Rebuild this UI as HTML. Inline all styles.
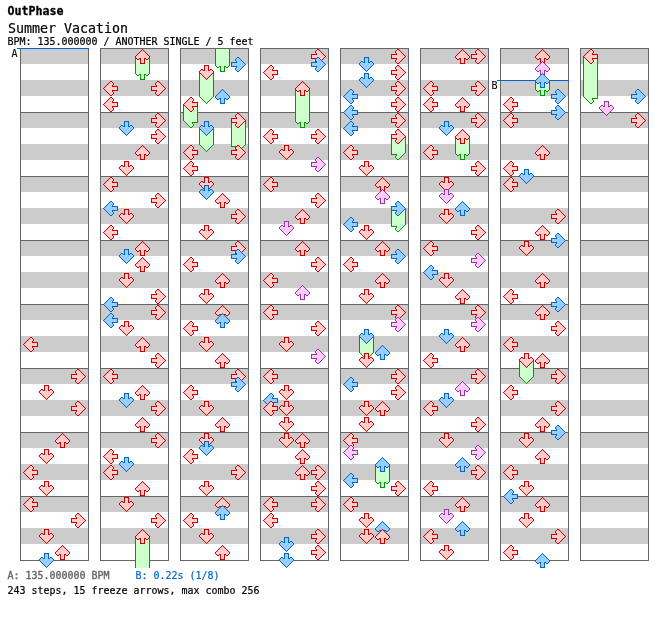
<!DOCTYPE html>
<html><head><meta charset="utf-8"><title>OutPhase - Summer Vacation</title>
<style>html,body{margin:0;padding:0;background:#fff}svg{display:block}</style></head>
<body>
<svg width="672" height="620" viewBox="0 0 672 620" shape-rendering="crispEdges">
<defs>
<g id="Lr"><path fill="#ffcccc" d="M7 1h2v1h-2zM6 2h4v1h-4zM5 3h5v1h-5zM4 4h5v1h-5zM3 5h6v1h-6zM2 6h12v1h-12zM1 7h13v1h-13zM2 8h12v1h-12zM3 9h6v1h-6zM4 10h5v1h-5zM5 11h5v1h-5zM6 12h4v1h-4zM7 13h2v1h-2z"/><path fill="#cc0000" d="M7 0h2v1h-2zM6 1h1v1h-1zM9 1h1v1h-1zM5 2h1v1h-1zM10 2h1v1h-1zM4 3h1v1h-1zM10 3h1v1h-1zM3 4h1v1h-1zM9 4h1v1h-1zM2 5h1v1h-1zM9 5h6v1h-6zM1 6h1v1h-1zM14 6h1v1h-1zM0 7h1v1h-1zM14 7h1v1h-1zM1 8h1v1h-1zM14 8h1v1h-1zM2 9h1v1h-1zM9 9h6v1h-6zM3 10h1v1h-1zM9 10h1v1h-1zM4 11h1v1h-1zM10 11h1v1h-1zM5 12h1v1h-1zM10 12h1v1h-1zM6 13h1v1h-1zM9 13h1v1h-1zM7 14h2v1h-2z"/></g>
<g id="Lb"><path fill="#99ccff" d="M7 1h2v1h-2zM6 2h4v1h-4zM5 3h5v1h-5zM4 4h5v1h-5zM3 5h6v1h-6zM2 6h12v1h-12zM1 7h13v1h-13zM2 8h12v1h-12zM3 9h6v1h-6zM4 10h5v1h-5zM5 11h5v1h-5zM6 12h4v1h-4zM7 13h2v1h-2z"/><path fill="#0066cc" d="M7 0h2v1h-2zM6 1h1v1h-1zM9 1h1v1h-1zM5 2h1v1h-1zM10 2h1v1h-1zM4 3h1v1h-1zM10 3h1v1h-1zM3 4h1v1h-1zM9 4h1v1h-1zM2 5h1v1h-1zM9 5h6v1h-6zM1 6h1v1h-1zM14 6h1v1h-1zM0 7h1v1h-1zM14 7h1v1h-1zM1 8h1v1h-1zM14 8h1v1h-1zM2 9h1v1h-1zM9 9h6v1h-6zM3 10h1v1h-1zM9 10h1v1h-1zM4 11h1v1h-1zM10 11h1v1h-1zM5 12h1v1h-1zM10 12h1v1h-1zM6 13h1v1h-1zM9 13h1v1h-1zM7 14h2v1h-2z"/></g>
<g id="Lp"><path fill="#ffccff" d="M7 1h2v1h-2zM6 2h4v1h-4zM5 3h5v1h-5zM4 4h5v1h-5zM3 5h6v1h-6zM2 6h12v1h-12zM1 7h13v1h-13zM2 8h12v1h-12zM3 9h6v1h-6zM4 10h5v1h-5zM5 11h5v1h-5zM6 12h4v1h-4zM7 13h2v1h-2z"/><path fill="#993399" d="M7 0h2v1h-2zM6 1h1v1h-1zM9 1h1v1h-1zM5 2h1v1h-1zM10 2h1v1h-1zM4 3h1v1h-1zM10 3h1v1h-1zM3 4h1v1h-1zM9 4h1v1h-1zM2 5h1v1h-1zM9 5h6v1h-6zM1 6h1v1h-1zM14 6h1v1h-1zM0 7h1v1h-1zM14 7h1v1h-1zM1 8h1v1h-1zM14 8h1v1h-1zM2 9h1v1h-1zM9 9h6v1h-6zM3 10h1v1h-1zM9 10h1v1h-1zM4 11h1v1h-1zM10 11h1v1h-1zM5 12h1v1h-1zM10 12h1v1h-1zM6 13h1v1h-1zM9 13h1v1h-1zM7 14h2v1h-2z"/></g>
<g id="Lt"><path fill="#ccffcc" d="M2 8h12v1h-12zM3 9h6v1h-6zM4 10h5v1h-5zM5 11h5v1h-5zM6 12h4v1h-4zM7 13h2v1h-2z"/><path fill="#009900" d="M1 8h1v1h-1zM14 8h1v1h-1zM2 9h1v1h-1zM9 9h6v1h-6zM3 10h1v1h-1zM9 10h1v1h-1zM4 11h1v1h-1zM10 11h1v1h-1zM5 12h1v1h-1zM10 12h1v1h-1zM6 13h1v1h-1zM9 13h1v1h-1zM7 14h2v1h-2z"/></g>
<g id="Dr"><path fill="#ffcccc" d="M6 1h3v1h-3zM6 2h3v1h-3zM6 3h3v1h-3zM6 4h3v1h-3zM2 5h2v1h-2zM6 5h3v1h-3zM11 5h2v1h-2zM1 6h13v1h-13zM1 7h13v1h-13zM2 8h11v1h-11zM3 9h9v1h-9zM4 10h7v1h-7zM5 11h5v1h-5zM6 12h3v1h-3zM7 13h1v1h-1z"/><path fill="#cc0000" d="M5 0h5v1h-5zM5 1h1v1h-1zM9 1h1v1h-1zM5 2h1v1h-1zM9 2h1v1h-1zM5 3h1v1h-1zM9 3h1v1h-1zM2 4h2v1h-2zM5 4h1v1h-1zM9 4h1v1h-1zM11 4h2v1h-2zM1 5h1v1h-1zM4 5h2v1h-2zM9 5h2v1h-2zM13 5h1v1h-1zM0 6h1v1h-1zM14 6h1v1h-1zM0 7h1v1h-1zM14 7h1v1h-1zM1 8h1v1h-1zM13 8h1v1h-1zM2 9h1v1h-1zM12 9h1v1h-1zM3 10h1v1h-1zM11 10h1v1h-1zM4 11h1v1h-1zM10 11h1v1h-1zM5 12h1v1h-1zM9 12h1v1h-1zM6 13h1v1h-1zM8 13h1v1h-1zM7 14h1v1h-1z"/></g>
<g id="Db"><path fill="#99ccff" d="M6 1h3v1h-3zM6 2h3v1h-3zM6 3h3v1h-3zM6 4h3v1h-3zM2 5h2v1h-2zM6 5h3v1h-3zM11 5h2v1h-2zM1 6h13v1h-13zM1 7h13v1h-13zM2 8h11v1h-11zM3 9h9v1h-9zM4 10h7v1h-7zM5 11h5v1h-5zM6 12h3v1h-3zM7 13h1v1h-1z"/><path fill="#0066cc" d="M5 0h5v1h-5zM5 1h1v1h-1zM9 1h1v1h-1zM5 2h1v1h-1zM9 2h1v1h-1zM5 3h1v1h-1zM9 3h1v1h-1zM2 4h2v1h-2zM5 4h1v1h-1zM9 4h1v1h-1zM11 4h2v1h-2zM1 5h1v1h-1zM4 5h2v1h-2zM9 5h2v1h-2zM13 5h1v1h-1zM0 6h1v1h-1zM14 6h1v1h-1zM0 7h1v1h-1zM14 7h1v1h-1zM1 8h1v1h-1zM13 8h1v1h-1zM2 9h1v1h-1zM12 9h1v1h-1zM3 10h1v1h-1zM11 10h1v1h-1zM4 11h1v1h-1zM10 11h1v1h-1zM5 12h1v1h-1zM9 12h1v1h-1zM6 13h1v1h-1zM8 13h1v1h-1zM7 14h1v1h-1z"/></g>
<g id="Dp"><path fill="#ffccff" d="M6 1h3v1h-3zM6 2h3v1h-3zM6 3h3v1h-3zM6 4h3v1h-3zM2 5h2v1h-2zM6 5h3v1h-3zM11 5h2v1h-2zM1 6h13v1h-13zM1 7h13v1h-13zM2 8h11v1h-11zM3 9h9v1h-9zM4 10h7v1h-7zM5 11h5v1h-5zM6 12h3v1h-3zM7 13h1v1h-1z"/><path fill="#993399" d="M5 0h5v1h-5zM5 1h1v1h-1zM9 1h1v1h-1zM5 2h1v1h-1zM9 2h1v1h-1zM5 3h1v1h-1zM9 3h1v1h-1zM2 4h2v1h-2zM5 4h1v1h-1zM9 4h1v1h-1zM11 4h2v1h-2zM1 5h1v1h-1zM4 5h2v1h-2zM9 5h2v1h-2zM13 5h1v1h-1zM0 6h1v1h-1zM14 6h1v1h-1zM0 7h1v1h-1zM14 7h1v1h-1zM1 8h1v1h-1zM13 8h1v1h-1zM2 9h1v1h-1zM12 9h1v1h-1zM3 10h1v1h-1zM11 10h1v1h-1zM4 11h1v1h-1zM10 11h1v1h-1zM5 12h1v1h-1zM9 12h1v1h-1zM6 13h1v1h-1zM8 13h1v1h-1zM7 14h1v1h-1z"/></g>
<g id="Dt"><path fill="#ccffcc" d="M2 8h11v1h-11zM3 9h9v1h-9zM4 10h7v1h-7zM5 11h5v1h-5zM6 12h3v1h-3zM7 13h1v1h-1z"/><path fill="#009900" d="M1 8h1v1h-1zM13 8h1v1h-1zM2 9h1v1h-1zM12 9h1v1h-1zM3 10h1v1h-1zM11 10h1v1h-1zM4 11h1v1h-1zM10 11h1v1h-1zM5 12h1v1h-1zM9 12h1v1h-1zM6 13h1v1h-1zM8 13h1v1h-1zM7 14h1v1h-1z"/></g>
<g id="Ur"><path fill="#ffcccc" d="M7 1h1v1h-1zM6 2h3v1h-3zM5 3h5v1h-5zM4 4h7v1h-7zM3 5h9v1h-9zM2 6h11v1h-11zM1 7h13v1h-13zM1 8h13v1h-13zM2 9h2v1h-2zM6 9h3v1h-3zM11 9h2v1h-2zM6 10h3v1h-3zM6 11h3v1h-3zM6 12h3v1h-3zM6 13h3v1h-3z"/><path fill="#cc0000" d="M7 0h1v1h-1zM6 1h1v1h-1zM8 1h1v1h-1zM5 2h1v1h-1zM9 2h1v1h-1zM4 3h1v1h-1zM10 3h1v1h-1zM3 4h1v1h-1zM11 4h1v1h-1zM2 5h1v1h-1zM12 5h1v1h-1zM1 6h1v1h-1zM13 6h1v1h-1zM0 7h1v1h-1zM14 7h1v1h-1zM0 8h1v1h-1zM14 8h1v1h-1zM1 9h1v1h-1zM4 9h2v1h-2zM9 9h2v1h-2zM13 9h1v1h-1zM2 10h2v1h-2zM5 10h1v1h-1zM9 10h1v1h-1zM11 10h2v1h-2zM5 11h1v1h-1zM9 11h1v1h-1zM5 12h1v1h-1zM9 12h1v1h-1zM5 13h1v1h-1zM9 13h1v1h-1zM5 14h5v1h-5z"/></g>
<g id="Ub"><path fill="#99ccff" d="M7 1h1v1h-1zM6 2h3v1h-3zM5 3h5v1h-5zM4 4h7v1h-7zM3 5h9v1h-9zM2 6h11v1h-11zM1 7h13v1h-13zM1 8h13v1h-13zM2 9h2v1h-2zM6 9h3v1h-3zM11 9h2v1h-2zM6 10h3v1h-3zM6 11h3v1h-3zM6 12h3v1h-3zM6 13h3v1h-3z"/><path fill="#0066cc" d="M7 0h1v1h-1zM6 1h1v1h-1zM8 1h1v1h-1zM5 2h1v1h-1zM9 2h1v1h-1zM4 3h1v1h-1zM10 3h1v1h-1zM3 4h1v1h-1zM11 4h1v1h-1zM2 5h1v1h-1zM12 5h1v1h-1zM1 6h1v1h-1zM13 6h1v1h-1zM0 7h1v1h-1zM14 7h1v1h-1zM0 8h1v1h-1zM14 8h1v1h-1zM1 9h1v1h-1zM4 9h2v1h-2zM9 9h2v1h-2zM13 9h1v1h-1zM2 10h2v1h-2zM5 10h1v1h-1zM9 10h1v1h-1zM11 10h2v1h-2zM5 11h1v1h-1zM9 11h1v1h-1zM5 12h1v1h-1zM9 12h1v1h-1zM5 13h1v1h-1zM9 13h1v1h-1zM5 14h5v1h-5z"/></g>
<g id="Up"><path fill="#ffccff" d="M7 1h1v1h-1zM6 2h3v1h-3zM5 3h5v1h-5zM4 4h7v1h-7zM3 5h9v1h-9zM2 6h11v1h-11zM1 7h13v1h-13zM1 8h13v1h-13zM2 9h2v1h-2zM6 9h3v1h-3zM11 9h2v1h-2zM6 10h3v1h-3zM6 11h3v1h-3zM6 12h3v1h-3zM6 13h3v1h-3z"/><path fill="#993399" d="M7 0h1v1h-1zM6 1h1v1h-1zM8 1h1v1h-1zM5 2h1v1h-1zM9 2h1v1h-1zM4 3h1v1h-1zM10 3h1v1h-1zM3 4h1v1h-1zM11 4h1v1h-1zM2 5h1v1h-1zM12 5h1v1h-1zM1 6h1v1h-1zM13 6h1v1h-1zM0 7h1v1h-1zM14 7h1v1h-1zM0 8h1v1h-1zM14 8h1v1h-1zM1 9h1v1h-1zM4 9h2v1h-2zM9 9h2v1h-2zM13 9h1v1h-1zM2 10h2v1h-2zM5 10h1v1h-1zM9 10h1v1h-1zM11 10h2v1h-2zM5 11h1v1h-1zM9 11h1v1h-1zM5 12h1v1h-1zM9 12h1v1h-1zM5 13h1v1h-1zM9 13h1v1h-1zM5 14h5v1h-5z"/></g>
<g id="Ut"><path fill="#ccffcc" d="M1 8h13v1h-13zM2 9h2v1h-2zM6 9h3v1h-3zM11 9h2v1h-2zM6 10h3v1h-3zM6 11h3v1h-3zM6 12h3v1h-3zM6 13h3v1h-3z"/><path fill="#009900" d="M0 8h1v1h-1zM14 8h1v1h-1zM1 9h1v1h-1zM4 9h2v1h-2zM9 9h2v1h-2zM13 9h1v1h-1zM2 10h2v1h-2zM5 10h1v1h-1zM9 10h1v1h-1zM11 10h2v1h-2zM5 11h1v1h-1zM9 11h1v1h-1zM5 12h1v1h-1zM9 12h1v1h-1zM5 13h1v1h-1zM9 13h1v1h-1zM5 14h5v1h-5z"/></g>
<g id="Rr"><path fill="#ffcccc" d="M6 1h2v1h-2zM5 2h4v1h-4zM5 3h5v1h-5zM6 4h5v1h-5zM6 5h6v1h-6zM1 6h12v1h-12zM1 7h13v1h-13zM1 8h12v1h-12zM6 9h6v1h-6zM6 10h5v1h-5zM5 11h5v1h-5zM5 12h4v1h-4zM6 13h2v1h-2z"/><path fill="#cc0000" d="M6 0h2v1h-2zM5 1h1v1h-1zM8 1h1v1h-1zM4 2h1v1h-1zM9 2h1v1h-1zM4 3h1v1h-1zM10 3h1v1h-1zM5 4h1v1h-1zM11 4h1v1h-1zM0 5h6v1h-6zM12 5h1v1h-1zM0 6h1v1h-1zM13 6h1v1h-1zM0 7h1v1h-1zM14 7h1v1h-1zM0 8h1v1h-1zM13 8h1v1h-1zM0 9h6v1h-6zM12 9h1v1h-1zM5 10h1v1h-1zM11 10h1v1h-1zM4 11h1v1h-1zM10 11h1v1h-1zM4 12h1v1h-1zM9 12h1v1h-1zM5 13h1v1h-1zM8 13h1v1h-1zM6 14h2v1h-2z"/></g>
<g id="Rb"><path fill="#99ccff" d="M6 1h2v1h-2zM5 2h4v1h-4zM5 3h5v1h-5zM6 4h5v1h-5zM6 5h6v1h-6zM1 6h12v1h-12zM1 7h13v1h-13zM1 8h12v1h-12zM6 9h6v1h-6zM6 10h5v1h-5zM5 11h5v1h-5zM5 12h4v1h-4zM6 13h2v1h-2z"/><path fill="#0066cc" d="M6 0h2v1h-2zM5 1h1v1h-1zM8 1h1v1h-1zM4 2h1v1h-1zM9 2h1v1h-1zM4 3h1v1h-1zM10 3h1v1h-1zM5 4h1v1h-1zM11 4h1v1h-1zM0 5h6v1h-6zM12 5h1v1h-1zM0 6h1v1h-1zM13 6h1v1h-1zM0 7h1v1h-1zM14 7h1v1h-1zM0 8h1v1h-1zM13 8h1v1h-1zM0 9h6v1h-6zM12 9h1v1h-1zM5 10h1v1h-1zM11 10h1v1h-1zM4 11h1v1h-1zM10 11h1v1h-1zM4 12h1v1h-1zM9 12h1v1h-1zM5 13h1v1h-1zM8 13h1v1h-1zM6 14h2v1h-2z"/></g>
<g id="Rp"><path fill="#ffccff" d="M6 1h2v1h-2zM5 2h4v1h-4zM5 3h5v1h-5zM6 4h5v1h-5zM6 5h6v1h-6zM1 6h12v1h-12zM1 7h13v1h-13zM1 8h12v1h-12zM6 9h6v1h-6zM6 10h5v1h-5zM5 11h5v1h-5zM5 12h4v1h-4zM6 13h2v1h-2z"/><path fill="#993399" d="M6 0h2v1h-2zM5 1h1v1h-1zM8 1h1v1h-1zM4 2h1v1h-1zM9 2h1v1h-1zM4 3h1v1h-1zM10 3h1v1h-1zM5 4h1v1h-1zM11 4h1v1h-1zM0 5h6v1h-6zM12 5h1v1h-1zM0 6h1v1h-1zM13 6h1v1h-1zM0 7h1v1h-1zM14 7h1v1h-1zM0 8h1v1h-1zM13 8h1v1h-1zM0 9h6v1h-6zM12 9h1v1h-1zM5 10h1v1h-1zM11 10h1v1h-1zM4 11h1v1h-1zM10 11h1v1h-1zM4 12h1v1h-1zM9 12h1v1h-1zM5 13h1v1h-1zM8 13h1v1h-1zM6 14h2v1h-2z"/></g>
<g id="Rt"><path fill="#ccffcc" d="M1 8h12v1h-12zM6 9h6v1h-6zM6 10h5v1h-5zM5 11h5v1h-5zM5 12h4v1h-4zM6 13h2v1h-2z"/><path fill="#009900" d="M0 8h1v1h-1zM13 8h1v1h-1zM0 9h6v1h-6zM12 9h1v1h-1zM5 10h1v1h-1zM11 10h1v1h-1zM4 11h1v1h-1zM10 11h1v1h-1zM4 12h1v1h-1zM9 12h1v1h-1zM5 13h1v1h-1zM8 13h1v1h-1zM6 14h2v1h-2z"/></g>
</defs>
<rect width="672" height="620" fill="#fff"/>
<path fill="#cccccc" d="M21 48h67v16h-67zM21 80h67v16h-67zM21 112h67v16h-67zM21 144h67v16h-67zM21 176h67v16h-67zM21 208h67v16h-67zM21 240h67v16h-67zM21 272h67v16h-67zM21 304h67v16h-67zM21 336h67v16h-67zM21 368h67v16h-67zM21 400h67v16h-67zM21 432h67v16h-67zM21 464h67v16h-67zM21 496h67v16h-67zM21 528h67v16h-67zM101 48h67v16h-67zM101 80h67v16h-67zM101 112h67v16h-67zM101 144h67v16h-67zM101 176h67v16h-67zM101 208h67v16h-67zM101 240h67v16h-67zM101 272h67v16h-67zM101 304h67v16h-67zM101 336h67v16h-67zM101 368h67v16h-67zM101 400h67v16h-67zM101 432h67v16h-67zM101 464h67v16h-67zM101 496h67v16h-67zM101 528h67v16h-67zM181 48h67v16h-67zM181 80h67v16h-67zM181 112h67v16h-67zM181 144h67v16h-67zM181 176h67v16h-67zM181 208h67v16h-67zM181 240h67v16h-67zM181 272h67v16h-67zM181 304h67v16h-67zM181 336h67v16h-67zM181 368h67v16h-67zM181 400h67v16h-67zM181 432h67v16h-67zM181 464h67v16h-67zM181 496h67v16h-67zM181 528h67v16h-67zM261 48h67v16h-67zM261 80h67v16h-67zM261 112h67v16h-67zM261 144h67v16h-67zM261 176h67v16h-67zM261 208h67v16h-67zM261 240h67v16h-67zM261 272h67v16h-67zM261 304h67v16h-67zM261 336h67v16h-67zM261 368h67v16h-67zM261 400h67v16h-67zM261 432h67v16h-67zM261 464h67v16h-67zM261 496h67v16h-67zM261 528h67v16h-67zM341 48h67v16h-67zM341 80h67v16h-67zM341 112h67v16h-67zM341 144h67v16h-67zM341 176h67v16h-67zM341 208h67v16h-67zM341 240h67v16h-67zM341 272h67v16h-67zM341 304h67v16h-67zM341 336h67v16h-67zM341 368h67v16h-67zM341 400h67v16h-67zM341 432h67v16h-67zM341 464h67v16h-67zM341 496h67v16h-67zM341 528h67v16h-67zM421 48h67v16h-67zM421 80h67v16h-67zM421 112h67v16h-67zM421 144h67v16h-67zM421 176h67v16h-67zM421 208h67v16h-67zM421 240h67v16h-67zM421 272h67v16h-67zM421 304h67v16h-67zM421 336h67v16h-67zM421 368h67v16h-67zM421 400h67v16h-67zM421 432h67v16h-67zM421 464h67v16h-67zM421 496h67v16h-67zM421 528h67v16h-67zM501 48h67v16h-67zM501 80h67v16h-67zM501 112h67v16h-67zM501 144h67v16h-67zM501 176h67v16h-67zM501 208h67v16h-67zM501 240h67v16h-67zM501 272h67v16h-67zM501 304h67v16h-67zM501 336h67v16h-67zM501 368h67v16h-67zM501 400h67v16h-67zM501 432h67v16h-67zM501 464h67v16h-67zM501 496h67v16h-67zM501 528h67v16h-67zM581 48h67v16h-67zM581 80h67v16h-67zM581 112h67v16h-67zM581 144h67v16h-67zM581 176h67v16h-67zM581 208h67v16h-67zM581 240h67v16h-67zM581 272h67v16h-67zM581 304h67v16h-67zM581 336h67v16h-67zM581 368h67v16h-67zM581 400h67v16h-67zM581 432h67v16h-67zM581 464h67v16h-67zM581 496h67v16h-67zM581 528h67v16h-67z"/>
<path fill="#666666" d="M20 48h1v513h-1zM88 48h1v513h-1zM21 48h67v1h-67zM21 112h67v1h-67zM21 176h67v1h-67zM21 240h67v1h-67zM21 304h67v1h-67zM21 368h67v1h-67zM21 432h67v1h-67zM21 496h67v1h-67zM21 560h67v1h-67zM100 48h1v513h-1zM168 48h1v513h-1zM101 48h67v1h-67zM101 112h67v1h-67zM101 176h67v1h-67zM101 240h67v1h-67zM101 304h67v1h-67zM101 368h67v1h-67zM101 432h67v1h-67zM101 496h67v1h-67zM101 560h67v1h-67zM180 48h1v513h-1zM248 48h1v513h-1zM181 48h67v1h-67zM181 112h67v1h-67zM181 176h67v1h-67zM181 240h67v1h-67zM181 304h67v1h-67zM181 368h67v1h-67zM181 432h67v1h-67zM181 496h67v1h-67zM181 560h67v1h-67zM260 48h1v513h-1zM328 48h1v513h-1zM261 48h67v1h-67zM261 112h67v1h-67zM261 176h67v1h-67zM261 240h67v1h-67zM261 304h67v1h-67zM261 368h67v1h-67zM261 432h67v1h-67zM261 496h67v1h-67zM261 560h67v1h-67zM340 48h1v513h-1zM408 48h1v513h-1zM341 48h67v1h-67zM341 112h67v1h-67zM341 176h67v1h-67zM341 240h67v1h-67zM341 304h67v1h-67zM341 368h67v1h-67zM341 432h67v1h-67zM341 496h67v1h-67zM341 560h67v1h-67zM420 48h1v513h-1zM488 48h1v513h-1zM421 48h67v1h-67zM421 112h67v1h-67zM421 176h67v1h-67zM421 240h67v1h-67zM421 304h67v1h-67zM421 368h67v1h-67zM421 432h67v1h-67zM421 496h67v1h-67zM421 560h67v1h-67zM500 48h1v513h-1zM568 48h1v513h-1zM501 48h67v1h-67zM501 112h67v1h-67zM501 176h67v1h-67zM501 240h67v1h-67zM501 304h67v1h-67zM501 368h67v1h-67zM501 432h67v1h-67zM501 496h67v1h-67zM501 560h67v1h-67zM580 48h1v513h-1zM648 48h1v513h-1zM581 48h67v1h-67zM581 112h67v1h-67zM581 176h67v1h-67zM581 240h67v1h-67zM581 304h67v1h-67zM581 368h67v1h-67zM581 432h67v1h-67zM581 496h67v1h-67zM581 560h67v1h-67z"/>
<path fill="#0066cc" d="M17 48h72v1h-72zM497 80h72v1h-72z"/>
<use href="#Lr" x="23" y="337"/>
<use href="#Rr" x="71" y="369"/>
<use href="#Dr" x="39" y="385"/>
<use href="#Rr" x="71" y="401"/>
<use href="#Ur" x="55" y="433"/>
<use href="#Dr" x="39" y="449"/>
<use href="#Lr" x="23" y="465"/>
<use href="#Dr" x="39" y="481"/>
<use href="#Lr" x="23" y="497"/>
<use href="#Rr" x="71" y="513"/>
<use href="#Dr" x="39" y="529"/>
<use href="#Ur" x="55" y="545"/>
<use href="#Db" x="39" y="553"/>
<path fill="#ccffcc" d="M136 56h13v17h-13z"/><path fill="#009900" d="M135 56h1v17h-1zM149 56h1v17h-1z"/>
<use href="#Ut" x="135" y="65"/>
<use href="#Ur" x="135" y="49"/>
<use href="#Lr" x="103" y="81"/>
<use href="#Rr" x="151" y="81"/>
<use href="#Lr" x="103" y="97"/>
<use href="#Rr" x="151" y="113"/>
<use href="#Db" x="119" y="121"/>
<use href="#Rr" x="151" y="129"/>
<use href="#Ur" x="135" y="145"/>
<use href="#Dr" x="119" y="161"/>
<use href="#Lr" x="103" y="177"/>
<use href="#Rr" x="151" y="193"/>
<use href="#Lb" x="103" y="201"/>
<use href="#Dr" x="119" y="209"/>
<use href="#Lr" x="103" y="225"/>
<use href="#Ur" x="135" y="241"/>
<use href="#Db" x="119" y="249"/>
<use href="#Ur" x="135" y="257"/>
<use href="#Dr" x="119" y="273"/>
<use href="#Rr" x="151" y="289"/>
<use href="#Lb" x="103" y="297"/>
<use href="#Rr" x="151" y="305"/>
<use href="#Lb" x="103" y="313"/>
<use href="#Dr" x="119" y="321"/>
<use href="#Ur" x="135" y="337"/>
<use href="#Rr" x="151" y="353"/>
<use href="#Lr" x="103" y="369"/>
<use href="#Ur" x="135" y="385"/>
<use href="#Db" x="119" y="393"/>
<use href="#Rr" x="151" y="401"/>
<use href="#Ur" x="135" y="417"/>
<use href="#Rr" x="151" y="433"/>
<use href="#Lr" x="103" y="449"/>
<use href="#Db" x="119" y="457"/>
<use href="#Lr" x="103" y="465"/>
<use href="#Ur" x="135" y="481"/>
<use href="#Dr" x="119" y="497"/>
<use href="#Rr" x="151" y="513"/>
<path fill="#ccffcc" d="M136 536h13v32h-13z"/><path fill="#009900" d="M135 536h1v32h-1zM149 536h1v32h-1z"/>
<use href="#Ur" x="135" y="529"/>
<path fill="#ccffcc" d="M216 49h13v16h-13z"/><path fill="#009900" d="M215 49h1v16h-1zM229 49h1v16h-1z"/>
<use href="#Ut" x="215" y="57"/>
<use href="#Rb" x="231" y="57"/>
<path fill="#ccffcc" d="M200 72h13v25h-13z"/><path fill="#009900" d="M199 72h1v25h-1zM213 72h1v25h-1z"/>
<use href="#Dt" x="199" y="89"/>
<use href="#Dr" x="199" y="65"/>
<use href="#Ub" x="215" y="89"/>
<path fill="#ccffcc" d="M184 104h13v17h-13z"/><path fill="#009900" d="M183 104h1v17h-1zM197 104h1v17h-1z"/>
<use href="#Lt" x="183" y="113"/>
<use href="#Lr" x="183" y="97"/>
<path fill="#ccffcc" d="M232 120h13v25h-13z"/><path fill="#009900" d="M231 120h1v25h-1zM245 120h1v25h-1z"/>
<use href="#Rt" x="231" y="137"/>
<use href="#Rr" x="231" y="113"/>
<path fill="#ccffcc" d="M200 128h13v17h-13z"/><path fill="#009900" d="M199 128h1v17h-1zM213 128h1v17h-1z"/>
<use href="#Dt" x="199" y="137"/>
<use href="#Db" x="199" y="121"/>
<use href="#Lr" x="183" y="145"/>
<use href="#Rr" x="231" y="145"/>
<use href="#Lr" x="183" y="161"/>
<use href="#Dr" x="199" y="177"/>
<use href="#Db" x="199" y="185"/>
<use href="#Ur" x="215" y="193"/>
<use href="#Rr" x="231" y="209"/>
<use href="#Dr" x="199" y="225"/>
<use href="#Rr" x="231" y="241"/>
<use href="#Rb" x="231" y="249"/>
<use href="#Lr" x="183" y="257"/>
<use href="#Ur" x="215" y="273"/>
<use href="#Dr" x="199" y="289"/>
<use href="#Ur" x="215" y="305"/>
<use href="#Ub" x="215" y="313"/>
<use href="#Lr" x="183" y="321"/>
<use href="#Dr" x="199" y="337"/>
<use href="#Ur" x="215" y="353"/>
<use href="#Rr" x="231" y="369"/>
<use href="#Rb" x="231" y="377"/>
<use href="#Lr" x="183" y="385"/>
<use href="#Dr" x="199" y="401"/>
<use href="#Ur" x="215" y="417"/>
<use href="#Dr" x="199" y="433"/>
<use href="#Db" x="199" y="441"/>
<use href="#Lr" x="183" y="449"/>
<use href="#Rr" x="231" y="465"/>
<use href="#Dr" x="199" y="481"/>
<use href="#Ur" x="215" y="497"/>
<use href="#Ub" x="215" y="505"/>
<use href="#Lr" x="183" y="513"/>
<use href="#Dr" x="199" y="529"/>
<use href="#Ur" x="215" y="545"/>
<use href="#Rr" x="311" y="49"/>
<use href="#Rb" x="311" y="57"/>
<use href="#Lr" x="263" y="65"/>
<path fill="#ccffcc" d="M296 88h13v33h-13z"/><path fill="#009900" d="M295 88h1v33h-1zM309 88h1v33h-1z"/>
<use href="#Ut" x="295" y="113"/>
<use href="#Ur" x="295" y="81"/>
<use href="#Lr" x="263" y="129"/>
<use href="#Rr" x="311" y="129"/>
<use href="#Dr" x="279" y="145"/>
<use href="#Rp" x="311" y="157"/>
<use href="#Lr" x="263" y="177"/>
<use href="#Rr" x="311" y="193"/>
<use href="#Ur" x="295" y="209"/>
<use href="#Dp" x="279" y="221"/>
<use href="#Ur" x="295" y="241"/>
<use href="#Rr" x="311" y="257"/>
<use href="#Lr" x="263" y="273"/>
<use href="#Up" x="295" y="285"/>
<use href="#Lr" x="263" y="305"/>
<use href="#Rr" x="311" y="321"/>
<use href="#Dr" x="279" y="337"/>
<use href="#Rp" x="311" y="349"/>
<use href="#Lr" x="263" y="369"/>
<use href="#Dr" x="279" y="385"/>
<use href="#Lb" x="263" y="393"/>
<use href="#Lr" x="263" y="401"/>
<use href="#Dr" x="279" y="401"/>
<use href="#Dr" x="279" y="417"/>
<use href="#Dr" x="279" y="433"/>
<use href="#Ur" x="295" y="433"/>
<use href="#Ur" x="295" y="449"/>
<use href="#Ur" x="295" y="465"/>
<use href="#Rr" x="311" y="465"/>
<use href="#Rr" x="311" y="481"/>
<use href="#Lr" x="263" y="497"/>
<use href="#Rr" x="311" y="497"/>
<use href="#Lr" x="263" y="513"/>
<use href="#Rr" x="311" y="529"/>
<use href="#Db" x="279" y="537"/>
<use href="#Rr" x="311" y="545"/>
<use href="#Db" x="279" y="553"/>
<use href="#Rr" x="391" y="49"/>
<use href="#Db" x="359" y="57"/>
<use href="#Rr" x="391" y="65"/>
<use href="#Db" x="359" y="73"/>
<use href="#Rr" x="391" y="81"/>
<use href="#Lb" x="343" y="89"/>
<use href="#Rr" x="391" y="97"/>
<use href="#Lb" x="343" y="105"/>
<use href="#Rr" x="391" y="113"/>
<use href="#Lb" x="343" y="121"/>
<path fill="#ccffcc" d="M392 136h13v17h-13z"/><path fill="#009900" d="M391 136h1v17h-1zM405 136h1v17h-1z"/>
<use href="#Rt" x="391" y="145"/>
<use href="#Rr" x="391" y="129"/>
<use href="#Lr" x="343" y="145"/>
<use href="#Dr" x="359" y="161"/>
<use href="#Ur" x="375" y="177"/>
<use href="#Up" x="375" y="189"/>
<path fill="#ccffcc" d="M392 208h13v17h-13z"/><path fill="#009900" d="M391 208h1v17h-1zM405 208h1v17h-1z"/>
<use href="#Rt" x="391" y="217"/>
<use href="#Rb" x="391" y="201"/>
<use href="#Lb" x="343" y="217"/>
<use href="#Dr" x="359" y="225"/>
<use href="#Ur" x="375" y="241"/>
<use href="#Rb" x="391" y="249"/>
<use href="#Lr" x="343" y="257"/>
<use href="#Ur" x="375" y="273"/>
<use href="#Dr" x="359" y="289"/>
<use href="#Rr" x="391" y="305"/>
<use href="#Rp" x="391" y="317"/>
<path fill="#ccffcc" d="M360 336h13v17h-13z"/><path fill="#009900" d="M359 336h1v17h-1zM373 336h1v17h-1z"/>
<use href="#Dt" x="359" y="345"/>
<use href="#Db" x="359" y="329"/>
<use href="#Ub" x="375" y="345"/>
<use href="#Dr" x="359" y="353"/>
<use href="#Rr" x="391" y="369"/>
<use href="#Lb" x="343" y="377"/>
<use href="#Rr" x="391" y="385"/>
<use href="#Dr" x="359" y="401"/>
<use href="#Ur" x="375" y="401"/>
<use href="#Dr" x="359" y="417"/>
<use href="#Lr" x="343" y="433"/>
<use href="#Lp" x="343" y="445"/>
<path fill="#ccffcc" d="M376 464h13v17h-13z"/><path fill="#009900" d="M375 464h1v17h-1zM389 464h1v17h-1z"/>
<use href="#Ut" x="375" y="473"/>
<use href="#Ub" x="375" y="457"/>
<use href="#Lb" x="343" y="473"/>
<use href="#Rr" x="391" y="481"/>
<use href="#Lr" x="343" y="497"/>
<use href="#Dr" x="359" y="513"/>
<use href="#Ub" x="375" y="521"/>
<use href="#Dr" x="359" y="529"/>
<use href="#Ur" x="375" y="529"/>
<use href="#Ur" x="455" y="49"/>
<use href="#Rr" x="471" y="49"/>
<use href="#Lr" x="423" y="81"/>
<use href="#Rr" x="471" y="81"/>
<use href="#Lr" x="423" y="97"/>
<use href="#Ur" x="455" y="97"/>
<use href="#Rr" x="471" y="113"/>
<use href="#Db" x="439" y="121"/>
<path fill="#ccffcc" d="M456 136h13v17h-13z"/><path fill="#009900" d="M455 136h1v17h-1zM469 136h1v17h-1z"/>
<use href="#Ut" x="455" y="145"/>
<use href="#Ur" x="455" y="129"/>
<use href="#Lr" x="423" y="145"/>
<use href="#Rr" x="471" y="161"/>
<use href="#Dr" x="439" y="177"/>
<use href="#Dp" x="439" y="189"/>
<use href="#Ub" x="455" y="201"/>
<use href="#Dr" x="439" y="209"/>
<use href="#Rr" x="471" y="225"/>
<use href="#Lr" x="423" y="241"/>
<use href="#Rp" x="471" y="253"/>
<use href="#Lb" x="423" y="265"/>
<use href="#Dr" x="439" y="273"/>
<use href="#Ur" x="455" y="289"/>
<use href="#Rr" x="471" y="305"/>
<use href="#Rp" x="471" y="317"/>
<use href="#Db" x="439" y="329"/>
<use href="#Ur" x="455" y="337"/>
<use href="#Lr" x="423" y="353"/>
<use href="#Rr" x="471" y="369"/>
<use href="#Up" x="455" y="381"/>
<use href="#Db" x="439" y="393"/>
<use href="#Lr" x="423" y="401"/>
<use href="#Rr" x="471" y="417"/>
<use href="#Dr" x="439" y="433"/>
<use href="#Rp" x="471" y="445"/>
<use href="#Ub" x="455" y="457"/>
<use href="#Rr" x="471" y="465"/>
<use href="#Lr" x="423" y="481"/>
<use href="#Ur" x="455" y="497"/>
<use href="#Dp" x="439" y="509"/>
<use href="#Ub" x="455" y="521"/>
<use href="#Lr" x="423" y="529"/>
<use href="#Dr" x="439" y="545"/>
<use href="#Ur" x="535" y="49"/>
<use href="#Up" x="535" y="61"/>
<path fill="#ccffcc" d="M536 80h13v9h-13z"/><path fill="#009900" d="M535 80h1v9h-1zM549 80h1v9h-1z"/>
<use href="#Ut" x="535" y="81"/>
<use href="#Ub" x="535" y="73"/>
<use href="#Rb" x="551" y="89"/>
<use href="#Lr" x="503" y="97"/>
<use href="#Rb" x="551" y="105"/>
<use href="#Lr" x="503" y="113"/>
<use href="#Ur" x="535" y="145"/>
<use href="#Lr" x="503" y="161"/>
<use href="#Db" x="519" y="169"/>
<use href="#Lr" x="503" y="177"/>
<use href="#Rr" x="551" y="209"/>
<use href="#Ur" x="535" y="225"/>
<use href="#Rb" x="551" y="233"/>
<use href="#Dr" x="519" y="241"/>
<use href="#Ur" x="535" y="273"/>
<use href="#Lr" x="503" y="289"/>
<use href="#Rb" x="551" y="297"/>
<use href="#Ur" x="535" y="305"/>
<use href="#Rr" x="551" y="321"/>
<use href="#Lr" x="503" y="337"/>
<path fill="#ccffcc" d="M520 360h13v17h-13z"/><path fill="#009900" d="M519 360h1v17h-1zM533 360h1v17h-1z"/>
<use href="#Dt" x="519" y="369"/>
<use href="#Dr" x="519" y="353"/>
<use href="#Ur" x="535" y="353"/>
<use href="#Rr" x="551" y="369"/>
<use href="#Lr" x="503" y="385"/>
<use href="#Rr" x="551" y="401"/>
<use href="#Ur" x="535" y="417"/>
<use href="#Rb" x="551" y="425"/>
<use href="#Dr" x="519" y="433"/>
<use href="#Ur" x="535" y="449"/>
<use href="#Lr" x="503" y="465"/>
<use href="#Dr" x="519" y="481"/>
<use href="#Lb" x="503" y="489"/>
<use href="#Ur" x="535" y="497"/>
<use href="#Dr" x="519" y="513"/>
<use href="#Rr" x="551" y="529"/>
<use href="#Lr" x="503" y="545"/>
<use href="#Ub" x="535" y="553"/>
<path fill="#ccffcc" d="M584 56h13v41h-13z"/><path fill="#009900" d="M583 56h1v41h-1zM597 56h1v41h-1z"/>
<use href="#Lt" x="583" y="89"/>
<use href="#Lr" x="583" y="49"/>
<use href="#Rb" x="631" y="89"/>
<use href="#Dp" x="599" y="101"/>
<use href="#Rr" x="631" y="113"/>
<g font-family="'DejaVu Sans Mono','Liberation Mono',monospace" shape-rendering="auto">
<text transform="translate(7.5 15) scale(1 1.0)" font-size="11.6" font-weight="bold" fill="#000" stroke="#000" stroke-width="0.3" textLength="56" lengthAdjust="spacing">OutPhase</text>
<text transform="translate(8 33) scale(1 1.0)" font-size="13.3" fill="#000" stroke="#000" stroke-width="0.2" textLength="120" lengthAdjust="spacing">Summer Vacation</text>
<text transform="translate(7.6 45) scale(1 1.08)" font-size="10" fill="#000" stroke="#000" stroke-width="0.2" textLength="246" lengthAdjust="spacing">BPM: 135.000000 / ANOTHER SINGLE / 5 feet</text>
<text transform="translate(11.4 57.2) scale(1 1.05)" font-size="10" fill="#000" stroke="#000" stroke-width="0.1">A</text>
<text transform="translate(491.4 89.2) scale(1 1.05)" font-size="10" fill="#000" stroke="#000" stroke-width="0.1">B</text>
<text transform="translate(7.6 579) scale(1 1.08)" font-size="10" fill="#666666" stroke="#666666" stroke-width="0.35" textLength="102" lengthAdjust="spacing">A: 135.000000 BPM</text>
<text transform="translate(135.6 579) scale(1 1.08)" font-size="10" fill="#0066cc" stroke="#0066cc" stroke-width="0.2" textLength="84" lengthAdjust="spacing">B: 0.22s (1/8)</text>
<text transform="translate(7.6 594) scale(1 1.08)" font-size="10" fill="#000" stroke="#000" stroke-width="0.2" textLength="252" lengthAdjust="spacing">243 steps, 15 freeze arrows, max combo 256</text>
</g>
</svg>
</body></html>
